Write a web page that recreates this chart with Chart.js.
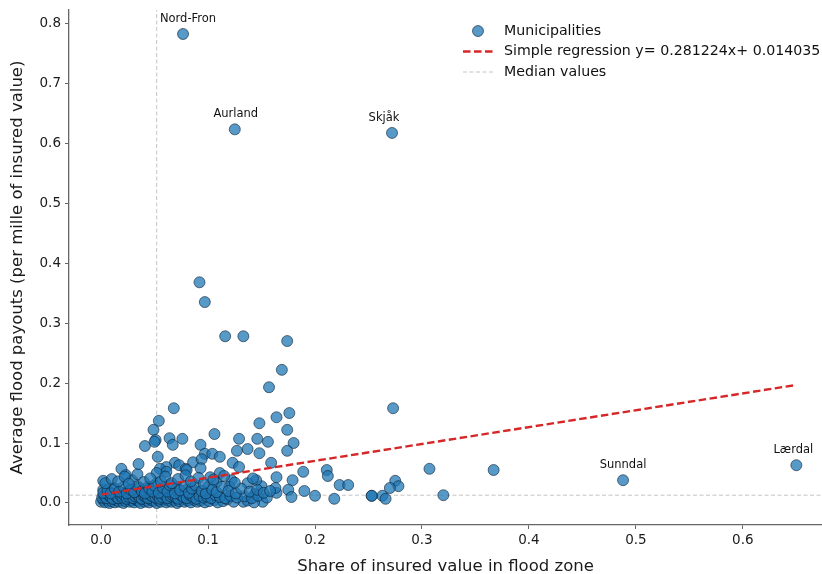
<!DOCTYPE html>
<html>
<head>
<meta charset="utf-8">
<script src="https://cdn.jsdelivr.net/npm/chart.js@4.4.1/dist/chart.umd.min.js"></script>
<style>
    html, body { margin: 0; padding: 0; background: #ffffff; }
    #wrap { width: 822px; height: 574px; }
</style>
</head>
<body>
<div id="wrap"><canvas id="floodChart" width="822" height="574"></canvas></div>
<script>
// Share of insured value in flood zone (x) and average payouts (y)
const shareInZone = [
    0.0766, 0.125, 0.272, 0.650, 0.488,
    0.092, 0.097, 0.116, 0.133, 0.174, 0.169, 0.157, 0.273, 0.068, 0.054,
    0.164, 0.176, 0.148, 0.174, 0.049, 0.180, 0.156, 0.106, 0.146, 0.129,
    0.076, 0.064, 0.051, 0.050, 0.041, 0.093, 0.067, 0.174, 0.148, 0.137,
    0.127, 0.097, 0.104, 0.111, 0.053, 0.123, 0.129, 0.159, 0.189, 0.211,
    0.212, 0.307, 0.367, 0.275, 0.278, 0.223, 0.231, 0.270, 0.263, 0.253,
    0.253, 0.266, 0.218, 0.200, 0.190, 0.179, 0.175, 0.178, 0.320, 0.164,
    0.164, 0.150, 0.145, 0.163, 0.144, 0.133, 0.151, 0.137, 0.122, 0.120,
    0.108, 0.100, 0.090, 0.080, 0.071, 0.060, 0.052, 0.044, 0.036, 0.027,
    0.020, 0.011, 0.002, 0.002, 0.029, 0.034, 0.023, 0.019, 0.035, 0.069,
    0.073, 0.061, 0.086, 0.094, 0.055, 0.061, 0.079, 0.093, 0.102, 0.111,
    0.052, 0.080,
    0.000, 0.002, 0.004, 0.006, 0.008, 0.010, 0.012, 0.013, 0.015, 0.017,
    0.019, 0.021, 0.023, 0.025, 0.027, 0.029, 0.031, 0.033, 0.035, 0.037,
    0.039, 0.041, 0.043, 0.045, 0.047, 0.049, 0.052, 0.054, 0.056, 0.058,
    0.061, 0.063, 0.066, 0.068, 0.071, 0.073, 0.076, 0.078, 0.081, 0.084,
    0.087, 0.090, 0.093, 0.097, 0.101, 0.106, 0.109, 0.114, 0.118, 0.124,
    0.137, 0.143,
    0.001, 0.003, 0.005, 0.007, 0.009, 0.011, 0.014, 0.016, 0.018, 0.020,
    0.022, 0.024, 0.026, 0.028, 0.030, 0.032, 0.034, 0.036, 0.038, 0.040,
    0.042, 0.044, 0.046, 0.048, 0.051, 0.053, 0.055, 0.057, 0.059, 0.062,
    0.065, 0.067, 0.070, 0.072, 0.075, 0.077, 0.080, 0.083, 0.086, 0.089,
    0.092, 0.096, 0.099, 0.103, 0.107, 0.111, 0.116, 0.121, 0.127, 0.134,
    0.141, 0.147, 0.155,
    0.002, 0.006, 0.009, 0.013, 0.017, 0.021, 0.024, 0.028, 0.031, 0.034,
    0.038, 0.041, 0.045, 0.048, 0.050, 0.054, 0.058, 0.062, 0.064, 0.069,
    0.074, 0.078, 0.082, 0.085, 0.088, 0.094, 0.098, 0.104, 0.108, 0.113,
    0.119, 0.126, 0.131, 0.139, 0.146, 0.152, 0.158,
    0.004, 0.010, 0.016, 0.022, 0.026, 0.040, 0.046, 0.056, 0.060, 0.066,
    0.072, 0.079, 0.084, 0.091, 0.096, 0.105, 0.115, 0.125, 0.142
];

const avgPayout = [
    0.782, 0.623, 0.617, 0.063, 0.038,
    0.368, 0.335, 0.278, 0.278, 0.270, 0.222, 0.193, 0.158, 0.158, 0.137,
    0.143, 0.150, 0.133, 0.122, 0.122, 0.100, 0.102, 0.115, 0.107, 0.107,
    0.107, 0.108, 0.105, 0.102, 0.095, 0.097, 0.097, 0.087, 0.083, 0.090,
    0.087, 0.082, 0.082, 0.077, 0.077, 0.067, 0.060, 0.067, 0.052, 0.055,
    0.045, 0.057, 0.055, 0.037, 0.028, 0.030, 0.030, 0.025, 0.012, 0.012,
    0.012, 0.007, 0.007, 0.012, 0.020, 0.038, 0.022, 0.010, 0.013, 0.017,
    0.043, 0.028, 0.038, 0.025, 0.015, 0.002, 0.002, 0.033, 0.038, 0.027,
    0.035, 0.027, 0.018, 0.022, 0.025, 0.022, 0.033, 0.027, 0.025, 0.022,
    0.017, 0.025, 0.022, 0.037, 0.038, 0.048, 0.047, 0.057, 0.065, 0.067,
    0.063, 0.060, 0.068, 0.073, 0.057, 0.052, 0.057, 0.058, 0.043, 0.050,
    0.050, 0.055,
    0.002, 0.005, 0.001, 0.004, 0.000, 0.003, 0.006, 0.001, 0.004, 0.002,
    0.005, 0.000, 0.003, 0.006, 0.002, 0.004, 0.001, 0.005, 0.003, 0.000,
    0.006, 0.002, 0.004, 0.001, 0.005, 0.003, 0.000, 0.004, 0.002, 0.006,
    0.001, 0.004, 0.002, 0.005, 0.000, 0.003, 0.006, 0.002, 0.004, 0.001,
    0.005, 0.002, 0.004, 0.001, 0.003, 0.005, 0.001, 0.003, 0.006, 0.002,
    0.004, 0.001,
    0.009, 0.012, 0.008, 0.013, 0.010, 0.007, 0.011, 0.008, 0.013, 0.009,
    0.012, 0.007, 0.010, 0.014, 0.008, 0.011, 0.013, 0.009, 0.007, 0.012,
    0.010, 0.008, 0.013, 0.011, 0.009, 0.012, 0.007, 0.010, 0.014, 0.008,
    0.011, 0.013, 0.009, 0.007, 0.012, 0.010, 0.008, 0.013, 0.010, 0.007,
    0.012, 0.009, 0.011, 0.008, 0.013, 0.010, 0.008, 0.012, 0.009, 0.011,
    0.008, 0.012, 0.009,
    0.017, 0.021, 0.016, 0.024, 0.019, 0.027, 0.016, 0.022, 0.018, 0.028,
    0.020, 0.016, 0.024, 0.019, 0.029, 0.017, 0.025, 0.019, 0.030, 0.016,
    0.021, 0.028, 0.017, 0.024, 0.030, 0.020, 0.016, 0.022, 0.018, 0.027,
    0.020, 0.016, 0.024, 0.019, 0.022, 0.017, 0.020,
    0.033, 0.040, 0.036, 0.044, 0.032, 0.035, 0.041, 0.036, 0.044, 0.033,
    0.040, 0.046, 0.036, 0.042, 0.032, 0.039, 0.045, 0.034, 0.041
];

// Named municipalities
const labelNames = ["Nord-Fron", "Aurland", "Skjåk", "Sunndal", "Lærdal"];
const labelX = [0.0766, 0.125, 0.272, 0.488, 0.650];
const labelY = [0.782, 0.623, 0.617, 0.038, 0.063];

// Regression and medians
const slope = 0.281224;
const intercept = 0.014035;
const regressionX = [0, 0.65];
const medianShare = 0.052;
const medianPayout = 0.013;

const xTicks = [0, 0.1, 0.2, 0.3, 0.4, 0.5, 0.6];
const yTicks = [0, 0.1, 0.2, 0.3, 0.4, 0.5, 0.6, 0.7, 0.8];

const X_MIN = -0.03, X_MAX = 0.674;
const Y_MIN = -0.0367, Y_MAX = 0.822;

const FONT = "'DejaVu Sans', sans-serif";
const POINT_FILL = "rgba(31, 119, 180, 0.75)";
const POINT_EDGE = "rgba(10, 30, 50, 0.85)";
const RED = "#d62728";
const GREY = "#c4c4c4";
const AXIS = "#666";

const points = shareInZone.map((x, i) => ({ x: x, y: avgPayout[i] }));

const regression = regressionX.map(x => ({ x: x, y: slope * x + intercept }));

const labelPlugin = {
    id: "pointLabels",
    afterDatasetsDraw(chart) {
        const ctx = chart.ctx;
        const xs = chart.scales.x;
        const ys = chart.scales.y;
        const dx = [5, 1, -8, 0, -3];
        ctx.save();
        ctx.font = "11.5px " + FONT;
        ctx.fillStyle = "#111";
        ctx.textAlign = "center";
        ctx.textBaseline = "middle";
        labelNames.forEach((name, i) => {
            ctx.fillText(
                name,
                xs.getPixelForValue(labelX[i]) + dx[i],
                ys.getPixelForValue(labelY[i]) - 15
            );
        });

        // legend, top right
        const lx = 463, ly = 31, gap = 20.5;
        ctx.beginPath();
        ctx.arc(lx + 15, ly, 5.5, 0, Math.PI * 2);
        ctx.fillStyle = POINT_FILL;
        ctx.fill();
        ctx.lineWidth = 0.7;
        ctx.strokeStyle = POINT_EDGE;
        ctx.stroke();

        ctx.lineWidth = 2.4;
        ctx.strokeStyle = RED;
        ctx.setLineDash([7.5, 3.5]);
        ctx.beginPath();
        ctx.moveTo(lx, ly + gap);
        ctx.lineTo(lx + 30, ly + gap);
        ctx.stroke();

        ctx.lineWidth = 1;
        ctx.strokeStyle = GREY;
        ctx.setLineDash([4, 2.5]);
        ctx.beginPath();
        ctx.moveTo(lx, ly + gap * 2);
        ctx.lineTo(lx + 30, ly + gap * 2);
        ctx.stroke();
        ctx.setLineDash([]);

        ctx.font = "14.2px " + FONT;
        ctx.fillStyle = "#111";
        ctx.textAlign = "left";
        ctx.fillText("Municipalities", lx + 41, ly);
        ctx.fillText("Simple regression y= " + slope + "x+ " + intercept.toFixed(6), lx + 41, ly + gap);
        ctx.fillText("Median values", lx + 41, ly + gap * 2);
        ctx.restore();
    }
};

function buildChart() {

    new Chart(
        document.getElementById("floodChart"),
        {
            type: "scatter",

            data: {
                datasets: [
                    {
                        label: "Municipalities",
                        data: points,
                        backgroundColor: POINT_FILL,
                        borderColor: POINT_EDGE,
                        borderWidth: 0.7,
                        pointRadius: 5.5,
                        order: 2
                    },
                    {
                        label: "Simple regression",
                        data: regression,
                        showLine: true,
                        borderColor: RED,
                        borderWidth: 2.4,
                        borderDash: [7.5, 3.5],
                        pointRadius: 0,
                        order: 1
                    },
                    {
                        label: "Median share",
                        data: [{ x: medianShare, y: Y_MIN }, { x: medianShare, y: Y_MAX }],
                        showLine: true,
                        borderColor: GREY,
                        borderWidth: 1,
                        borderDash: [4, 2.5],
                        pointRadius: 0,
                        order: 3
                    },
                    {
                        label: "Median payout",
                        data: [{ x: X_MIN, y: medianPayout }, { x: X_MAX, y: medianPayout }],
                        showLine: true,
                        borderColor: GREY,
                        borderWidth: 1,
                        borderDash: [4, 2.5],
                        pointRadius: 0,
                        order: 3
                    }
                ]
            },

            options: {
                responsive: false,
                animation: false,
                layout: {
                    autoPadding: false,
                    padding: { top: 10, right: 0, left: 0, bottom: 0 }
                },
                plugins: {
                    legend: { display: false },
                    tooltip: { enabled: false }
                },
                scales: {
                    x: {
                        type: "linear",
                        min: X_MIN,
                        max: X_MAX,
                        afterBuildTicks: scale => {
                            scale.ticks = xTicks.map(v => ({ value: v }));
                        },
                        afterFit: scale => {
                            scale.height = 49;
                            scale.paddingRight = 0;
                            scale.paddingLeft = 0;
                        },
                        grid: {
                            drawOnChartArea: false,
                            drawTicks: true,
                            tickLength: 4,
                            color: AXIS
                        },
                        border: { display: true, color: AXIS, width: 1.3 },
                        ticks: {
                            color: "#1a1a1a",
                            padding: 3,
                            maxRotation: 0,
                            font: { family: FONT, size: 13.5 },
                            callback: v => v.toFixed(1)
                        },
                        title: {
                            display: true,
                            text: "Share of insured value in flood zone",
                            color: "#1a1a1a",
                            font: { family: FONT, size: 16.5 },
                            padding: { top: 0, bottom: -3 }
                        }
                    },
                    y: {
                        type: "linear",
                        min: Y_MIN,
                        max: Y_MAX,
                        afterBuildTicks: scale => {
                            scale.ticks = yTicks.map(v => ({ value: v }));
                        },
                        afterFit: scale => {
                            scale.width = 69;
                            scale.paddingTop = 0;
                            scale.paddingBottom = 0;
                        },
                        grid: {
                            drawOnChartArea: false,
                            drawTicks: true,
                            tickLength: 4,
                            color: AXIS
                        },
                        border: { display: true, color: AXIS, width: 1.3 },
                        ticks: {
                            color: "#1a1a1a",
                            padding: 4,
                            font: { family: FONT, size: 13.5 },
                            callback: v => v.toFixed(1)
                        },
                        title: {
                            display: true,
                            text: "Average flood payouts (per mille of insured value)",
                            color: "#1a1a1a",
                            font: { family: FONT, size: 16.5 },
                            padding: { top: 8, bottom: 0 }
                        }
                    }
                }
            },

            plugins: [labelPlugin]
        }
    );
}

buildChart();
</script>
</body>
</html>
